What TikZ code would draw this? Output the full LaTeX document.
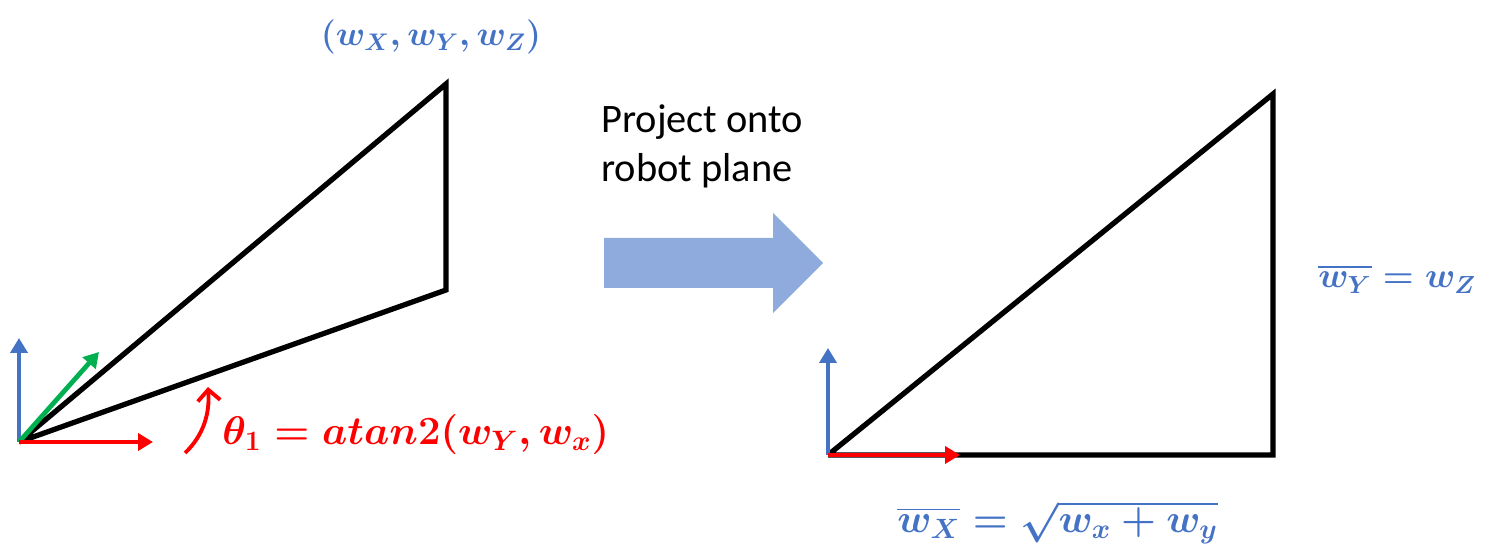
\RequirePackage{fix-cm}
\documentclass[tikz,border=0pt]{standalone}
\usepackage{amsmath}
\usepackage{fontspec}
\setmainfont{Carlito}
\usepackage{tikz}
\usetikzlibrary{arrows.meta,positioning}

\definecolor{axisblue}{HTML}{4472C4}
\definecolor{axisgreen}{HTML}{00B050}
\definecolor{bigarrow}{HTML}{8FAADC}

\begin{document}
\begin{tikzpicture}[x=0.02cm,y=-0.02cm,
        link/.style={line width=3pt,line join=miter},
        axis/.style={line width=2.7pt,-{Triangle[length=0.3cm,width=0.34cm]}},
        lbl/.style={inner sep=0pt,font=\fontsize{#1}{30}\selectfont\boldmath}]
        \useasboundingbox (0,0) rectangle (1498,560);
        % left: point in space
        \coordinate (o_1) at (19,442);
        \coordinate (t_1) at (446,84);
        \coordinate (b_1) at (446,290);
        \draw[link] (o_1) -- (t_1) -- (b_1) -- (o_1);
        \coordinate (x_1) at (153,442);
        \coordinate (y_1) at (19,338);
        \coordinate (g_1) at (99,352);
        \draw[axis,axisblue] (o_1) -- (y_1);
        \draw[axis,axisgreen] (o_1) -- (g_1);
        \draw[axis,red] (o_1) -- (x_1);
        \coordinate (a_0) at (185,453);
        \coordinate (a_1) at (208,387);
        \draw[red,line width=2.2pt,-{Straight Barb[length=0.22cm,width=0.45cm]}]
            (a_0) .. controls (203,436) and (210,414) .. (a_1);
        \node[lbl=19.5,text=axisblue] (w_pt) at (431,37) {$(w_X,w_Y,w_Z)$};
        \node[lbl=22.8,text=red,anchor=west] (theta) at (222,434) {$\theta_1=atan2(w_Y,w_x)$};
        % middle: projection
        \node[anchor=west,align=left,inner sep=0pt,font=\fontsize{23}{28}\selectfont]
            (proj) at (601,146) {Project onto\\robot plane};
        \fill[bigarrow] (604,238) -- (773,238) -- (773,213) -- (823,263)
            -- (773,313) -- (773,288) -- (604,288) -- cycle;
        % right: robot plane
        \coordinate (o_2) at (828,455);
        \coordinate (t_2) at (1273,94);
        \coordinate (r_2) at (1273,455);
        \draw[link] (o_2) -- (t_2) -- (r_2) -- (o_2);
        \coordinate (x_2) at (960,455);
        \coordinate (y_2) at (828,348);
        \draw[axis,axisblue] (o_2) -- (y_2);
        \draw[axis,red] (o_2) -- (x_2);
        \node[lbl=20.1,text=axisblue,anchor=west] (wy_bar) at (1318,279) {$\overline{w_Y}=w_Z$};
        \node[lbl=22.7,text=axisblue,anchor=west] (wx_bar) at (897,522) {$\overline{w_X}=\sqrt{w_x+w_y}$};
\end{tikzpicture}
\end{document}
